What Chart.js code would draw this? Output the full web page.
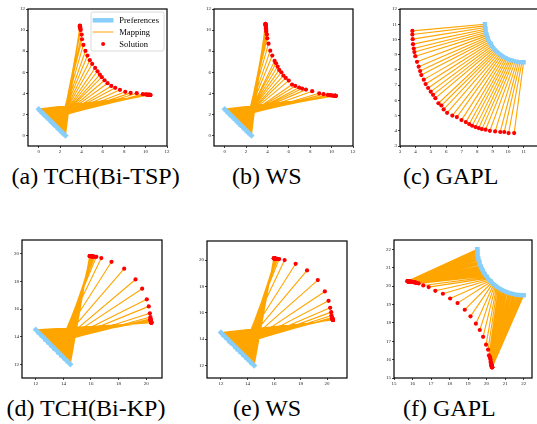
<!DOCTYPE html>
<html><head><meta charset="utf-8">
<script src="https://cdn.jsdelivr.net/npm/chart.js@4/dist/chart.umd.min.js"></script>
<style>
html,body{margin:0;padding:0;background:#fff;overflow:hidden;width:537px;height:424px;position:relative;}
.panel{position:absolute;}
.cap{position:absolute;font-family:'Liberation Serif','Times New Roman',serif;font-size:24px;line-height:24px;white-space:nowrap;color:#000;}
</style></head><body>
<script>
// ---------- data ----------
const abPrefX = [2.5,2.44,2.39,2.33,2.28,2.22,2.17,2.11,2.06,2.0,1.94,1.89,1.83,1.78,1.72,1.67,1.61,1.56,1.5,1.44,1.39,1.33,1.28,1.22,1.17,1.11,1.06,1.0,0.94,0.89,0.83,0.78,0.72,0.67,0.61,0.56,0.5,0.44,0.39,0.33,0.28,0.22,0.17,0.11,0.06,0.0];
const abPrefY = [0.0,0.06,0.11,0.17,0.22,0.28,0.33,0.39,0.44,0.5,0.56,0.61,0.67,0.72,0.78,0.83,0.89,0.94,1.0,1.06,1.11,1.17,1.22,1.28,1.33,1.39,1.44,1.5,1.56,1.61,1.67,1.72,1.78,1.83,1.89,1.94,2.0,2.06,2.11,2.17,2.22,2.28,2.33,2.39,2.44,2.5];
const aSolX = [3.85,3.86,3.86,3.86,3.87,3.87,3.88,3.9,3.93, 4.02,4.05,4.18,4.37,4.56,4.78,5.0,5.28,5.5,5.72,5.9,6.16,6.44,6.79,7.16,7.6,8.1,8.6,9.17,9.74, 10.0,10.1,10.18,10.25,10.28,10.3,10.32,10.34,10.35,10.37,10.38,10.4,10.41,10.42,10.43,10.44,10.45];
const aSolY = [10.42,10.4,10.37,10.35,10.3,10.25,10.2,10.1,10.0, 9.57,9.13,8.59,8.02,7.58,7.14,6.79,6.41,6.09,5.78,5.53,5.24,4.96,4.7,4.52,4.33,4.14,4.04,4.01,3.92, 3.9,3.88,3.87,3.86,3.86,3.85,3.85,3.85,3.85,3.84,3.85,3.84,3.85,3.84,3.85,3.84,3.84];
const bSolX = [3.81,3.82,3.82,3.83,3.83,3.84,3.85,3.86,3.88,3.89, 3.95,3.98,4.1,4.26,4.45,4.67,4.8,4.95,5.1,5.3,5.49,5.71,5.99,6.3,6.6,6.96,7.24,7.6,8.18,8.84,9.25, 9.65,9.85,9.97,10.08,10.19,10.24,10.28,10.3,10.32,10.34,10.35,10.36,10.37,10.38,10.39];
const bSolY = [10.6,10.58,10.55,10.5,10.45,10.39,10.3,10.17,10.0,9.85, 9.57,9.22,8.71,8.05,7.58,7.07,6.85,6.54,6.22,6.0,5.68,5.46,5.21,4.83,4.7,4.55,4.45,4.35,4.2,4.0,3.92, 3.85,3.82,3.8,3.79,3.77,3.77,3.76,3.76,3.76,3.76,3.76,3.76,3.76,3.76,3.76];
const cPrefX = [8.5,8.5,8.51,8.52,8.54,8.56,8.59,8.62,8.65,8.69,8.73,8.78,8.83,8.89,8.95,9.02,9.08,9.16,9.23,9.31,9.39,9.48,9.57,9.66,9.75,9.85,9.94,10.04,10.14,10.25,10.35,10.46,10.57,10.67,10.78,10.89,11.0];
const cPrefY = [11.0,10.89,10.78,10.67,10.57,10.46,10.35,10.25,10.14,10.04,9.94,9.85,9.75,9.66,9.57,9.48,9.39,9.31,9.23,9.16,9.08,9.02,8.95,8.89,8.83,8.78,8.73,8.69,8.65,8.62,8.59,8.56,8.54,8.52,8.51,8.5,8.5];
const cSolX = [3.8,3.8,3.82,3.84,3.89,3.93,3.99,4.1,4.21,4.3,4.38,4.54,4.66,4.82,4.99,5.14,5.29,5.49,5.68,5.83,6.05,6.39,6.68,6.98,7.26,7.48,7.67,7.89,8.1,8.3,8.54,8.82,9.16,9.49,9.75,10.03,10.39];
const cSolY = [10.56,10.32,10.02,9.69,9.4,9.17,8.9,8.53,8.21,7.92,7.66,7.36,7.07,6.81,6.57,6.36,6.14,5.81,5.66,5.4,5.18,5.0,4.9,4.7,4.57,4.44,4.33,4.24,4.18,4.11,4.07,4.0,3.96,3.92,3.92,3.85,3.85];
const dePrefX = [14.5,14.44,14.39,14.33,14.28,14.22,14.17,14.11,14.06,14.0,13.94,13.89,13.83,13.78,13.72,13.67,13.61,13.56,13.5,13.44,13.39,13.33,13.28,13.22,13.17,13.11,13.06,13.0,12.94,12.89,12.83,12.78,12.72,12.67,12.61,12.56,12.5,12.44,12.39,12.33,12.28,12.22,12.17,12.11,12.06,12.0];
const dePrefY = [12.0,12.06,12.11,12.17,12.22,12.28,12.33,12.39,12.44,12.5,12.56,12.61,12.67,12.72,12.78,12.83,12.89,12.94,13.0,13.06,13.11,13.17,13.22,13.28,13.33,13.39,13.44,13.5,13.56,13.61,13.67,13.72,13.78,13.83,13.89,13.94,14.0,14.06,14.11,14.17,14.22,14.28,14.33,14.39,14.44,14.5];
const dSolX = [15.9,15.91,15.92,15.93,15.94,15.95,15.96,15.98,16.0,16.02,16.04,16.06,16.08,16.1,16.14,16.2,16.27, 16.39,16.75,17.49,18.41,19.23,19.71,20.05,20.19,20.27,20.31, 20.31,20.32,20.33,20.33,20.34,20.34,20.35,20.35,20.36,20.36,20.36,20.36,20.37,20.37,20.37,20.37,20.37,20.38,20.38];
const dSolY = [19.84,19.84,19.84,19.83,19.83,19.83,19.83,19.83,19.83,19.83,19.82,19.82,19.82,19.81,19.81,19.8,19.78, 19.78,19.69,19.42,18.92,18.14,17.47,16.7,16.19,15.69,15.42, 15.3,15.26,15.22,15.19,15.16,15.14,15.12,15.1,15.08,15.07,15.06,15.05,15.04,15.03,15.02,15.02,15.01,15.0,15.0];
const eSolX = [15.98,15.99,16.0,16.01,16.02,16.03,16.04,16.05,16.06,16.07,16.08,16.09,16.1,16.12,16.14,16.2,16.27, 16.39,16.8,17.63,18.49,19.3,19.83,20.11,20.23,20.31,20.33,20.36, 20.37,20.38,20.39,20.4,20.4,20.41,20.41,20.42,20.42,20.42,20.43,20.43,20.43,20.44,20.44,20.44,20.45,20.45];
const eSolY = [20.14,20.14,20.13,20.13,20.13,20.13,20.13,20.12,20.12,20.12,20.12,20.11,20.11,20.1,20.1,20.1,20.1, 20.08,20.0,19.72,19.22,18.48,17.62,16.91,16.38,16.05,15.8,15.65, 15.6,15.58,15.56,15.55,15.54,15.53,15.52,15.51,15.5,15.5,15.49,15.48,15.48,15.47,15.47,15.46,15.46,15.45];
const fPrefX = [19.5,19.5,19.5,19.51,19.51,19.52,19.53,19.54,19.55,19.57,19.59,19.6,19.62,19.64,19.67,19.69,19.72,19.74,19.77,19.8,19.83,19.87,19.9,19.94,19.98,20.02,20.06,20.1,20.14,20.19,20.23,20.28,20.33,20.38,20.43,20.48,20.53,20.58,20.64,20.69,20.75,20.81,20.87,20.92,20.98,21.04,21.1,21.17,21.23,21.29,21.35,21.42,21.48,21.54,21.61,21.67,21.74,21.8,21.87,21.93,22.0];
const fPrefY = [22.0,21.93,21.87,21.8,21.74,21.67,21.61,21.54,21.48,21.42,21.35,21.29,21.23,21.17,21.1,21.04,20.98,20.92,20.87,20.81,20.75,20.69,20.64,20.58,20.53,20.48,20.43,20.38,20.33,20.28,20.23,20.19,20.14,20.1,20.06,20.02,19.98,19.94,19.9,19.87,19.83,19.8,19.77,19.74,19.72,19.69,19.67,19.64,19.62,19.6,19.59,19.57,19.55,19.54,19.53,19.52,19.51,19.51,19.5,19.5,19.5];
const fSolX = [15.72,15.73,15.74,15.75,15.76,15.77,15.78,15.79,15.8,15.81,15.83,15.85,15.87,15.9,15.93,15.95,15.98,16.0,16.04,16.08,16.11,16.14,16.17,16.2, 16.33,16.58,16.87,17.23,17.64,18.03,18.43,18.82,19.13,19.42,19.63,19.81,19.97, 20.08,20.13,20.16,20.19,20.21,20.22,20.23,20.24,20.25,20.26,20.26,20.27,20.27,20.28,20.28,20.28,20.29,20.29,20.29,20.29,20.3,20.3,20.3,20.3];
const fSolY = [20.26,20.26,20.25,20.25,20.25,20.25,20.25,20.25,20.25,20.25,20.25,20.24,20.24,20.24,20.23,20.23,20.22,20.22,20.21,20.21,20.2,20.19,20.18,20.17, 20.14,20.03,19.94,19.74,19.58,19.32,19.07,18.71,18.35,17.95,17.61,17.24,16.81, 16.54,16.23,16.15,16.09,16.0,15.89,15.84,15.8,15.76,15.73,15.7,15.68,15.66,15.65,15.63,15.62,15.61,15.6,15.6,15.59,15.59,15.58,15.58,15.58];

const abTicks = [0,2,4,6,8,10,12];
const cTicksX = [3,4,5,6,7,8,9,10,11,12];
const cTicksY = [3,4,5,6,7,8,9,10,11,12];
const deTicks = [12,14,16,18,20];
const fTicks = [15,16,17,18,19,20,21,22];

const legendLabels = ['Preferences','Mapping','Solution'];
const captions = ['(a) TCH(Bi-TSP)','(b) WS','(c) GAPL','(d) TCH(Bi-KP)','(e) WS','(f) GAPL'];

// ---------- layout ----------
const L = 18, T = 4, R = 4, B = 12;
const BLUE = '#87cefa', ORANGE = '#ffa500', RED = '#ff0000';

const panels = [
  {left:28, top:9, w:139, h:137, xr:[-1,12], yr:[-1,12], xt:abTicks, yt:abTicks, px:abPrefX, py:abPrefY, sx:aSolX, sy:aSolY, legend:true},
  {left:214, top:9, w:139, h:137, xr:[-1,12], yr:[-1,12], xt:abTicks, yt:abTicks, px:abPrefX, py:abPrefY, sx:bSolX, sy:bSolY},
  {left:400, top:9, w:139, h:137, xr:[3,12], yr:[3,12], xt:cTicksX, yt:cTicksY, px:cPrefX, py:cPrefY, sx:cSolX, sy:cSolY},
  {left:22, top:240, w:140, h:138, xr:[11,21.15], yr:[11,21], xt:deTicks, yt:deTicks, px:dePrefX, py:dePrefY, sx:dSolX, sy:dSolY},
  {left:207, top:241, w:140, h:137, xr:[10.95,21.5], yr:[11.05,21.45], xt:deTicks, yt:deTicks, px:dePrefX, py:dePrefY, sx:eSolX, sy:eSolY},
  {left:394, top:240, w:138, h:138, xr:[15,22.45], yr:[15,22.5], xt:fTicks, yt:fTicks, px:fPrefX, py:fPrefY, sx:fSolX, sy:fSolY}
];
const capPos = [[11.5,163.9],[232,163.9],[403,163.9],[6.5,396.4],[233,396.4],[403,396.4]];

const framePlugin = {
  id:'frame',
  afterDatasetsDraw(chart){
    const {ctx, chartArea:a} = chart;
    ctx.save(); ctx.strokeStyle = '#000'; ctx.lineWidth = 1.2;
    ctx.strokeRect(a.left, a.top, a.right - a.left, a.bottom - a.top);
    ctx.restore();
  }
};
const legendPlugin = {
  id:'mplLegend',
  afterDraw(chart, args, opts){
    if (!opts.show) return;
    const {ctx, chartArea:a} = chart;
    const x0 = a.left + 63, y0 = a.top + 3, w = 73, h = 39, r = 2;
    ctx.save();
    ctx.beginPath();
    ctx.moveTo(x0 + r, y0); ctx.lineTo(x0 + w - r, y0); ctx.arcTo(x0 + w, y0, x0 + w, y0 + r, r);
    ctx.lineTo(x0 + w, y0 + h - r); ctx.arcTo(x0 + w, y0 + h, x0 + w - r, y0 + h, r);
    ctx.lineTo(x0 + r, y0 + h); ctx.arcTo(x0, y0 + h, x0, y0 + h - r, r);
    ctx.lineTo(x0, y0 + r); ctx.arcTo(x0, y0, x0 + r, y0, r); ctx.closePath();
    ctx.fillStyle = 'rgba(255,255,255,0.85)'; ctx.fill();
    ctx.strokeStyle = '#d0d0d0'; ctx.lineWidth = 0.8; ctx.stroke();
    const rows = [y0 + 8.3, y0 + 20, y0 + 32];
    const hx0 = x0 + 1.7, hx1 = x0 + 22.5;
    ctx.lineCap = 'butt';
    ctx.strokeStyle = BLUE; ctx.lineWidth = 4.5;
    ctx.beginPath(); ctx.moveTo(hx0, rows[0]); ctx.lineTo(hx1, rows[0]); ctx.stroke();
    ctx.strokeStyle = ORANGE; ctx.lineWidth = 1;
    ctx.beginPath(); ctx.moveTo(hx0, rows[1]); ctx.lineTo(hx1, rows[1]); ctx.stroke();
    ctx.fillStyle = RED;
    ctx.beginPath(); ctx.arc((hx0 + hx1) / 2, rows[2], 2, 0, Math.PI * 2); ctx.fill();
    ctx.fillStyle = '#000'; ctx.font = '8.5px "Liberation Serif"'; ctx.textBaseline = 'middle'; ctx.textAlign = 'left';
    legendLabels.forEach((t, i) => ctx.fillText(t, x0 + 28.3, rows[i] + 0.3));
    ctx.restore();
  }
};

function pts(xs, ys){ return xs.map((x, i) => ({x, y: ys[i]})); }
function segs(px, py, sx, sy){
  const d = [];
  for (let i = 0; i < px.length; i++) { d.push({x:px[i], y:py[i]}, {x:sx[i], y:sy[i]}, {x:sx[i], y:null}); }
  return d;
}
function axis(range, ticks, isX){
  return {
    type:'linear', min:range[0], max:range[1],
    afterBuildTicks: s => { s.ticks = ticks.map(v => ({value:v})); },
    afterFit: s => { if (isX) s.height = B; else s.width = L; },
    ticks:{font:{family:'Liberation Serif', size:5}, color:'#222', padding:1, maxRotation:0, minRotation:0, autoSkip:false, callback: v => String(v)},
    grid:{drawOnChartArea:false, drawTicks:true, tickLength:2, color:'#111', lineWidth:0.8},
    border:{display:false}
  };
}

panels.forEach(p => {
  const W = p.w + L + R, H = p.h + T + B;
  const div = document.createElement('div'); div.className = 'panel';
  div.style.left = (p.left - L) + 'px'; div.style.top = (p.top - T) + 'px';
  div.style.width = W + 'px'; div.style.height = H + 'px';
  const cv = document.createElement('canvas'); cv.width = W; cv.height = H;
  cv.style.width = W + 'px'; cv.style.height = H + 'px';
  div.appendChild(cv); document.body.appendChild(div);
  new Chart(cv, {
    type:'scatter',
    data:{datasets:[
      {label:legendLabels[2], data:pts(p.sx, p.sy), showLine:false, pointRadius:2.1, pointBackgroundColor:RED, pointBorderWidth:0, order:0},
      {label:legendLabels[0], data:pts(p.px, p.py), showLine:true, borderColor:BLUE, borderWidth:4.5, borderCapStyle:'square', borderJoinStyle:'round', pointRadius:0, order:1},
      {label:legendLabels[1], data:segs(p.px, p.py, p.sx, p.sy), showLine:true, spanGaps:false, borderColor:ORANGE, borderWidth:1.1, pointRadius:0, order:2}
    ]},
    options:{
      responsive:false, animation:false, devicePixelRatio:1, events:[],
      layout:{padding:{left:0, top:T, right:R, bottom:0}},
      plugins:{legend:{display:false}, tooltip:{enabled:false}, mplLegend:{show:!!p.legend}},
      scales:{x:axis(p.xr, p.xt, true), y:axis(p.yr, p.yt, false)}
    },
    plugins:[framePlugin, legendPlugin]
  });
});

captions.forEach((t, i) => {
  const d = document.createElement('div'); d.className = 'cap';
  d.style.left = capPos[i][0] + 'px'; d.style.top = capPos[i][1] + 'px';
  d.textContent = t; document.body.appendChild(d);
});
</script>
</body></html>
